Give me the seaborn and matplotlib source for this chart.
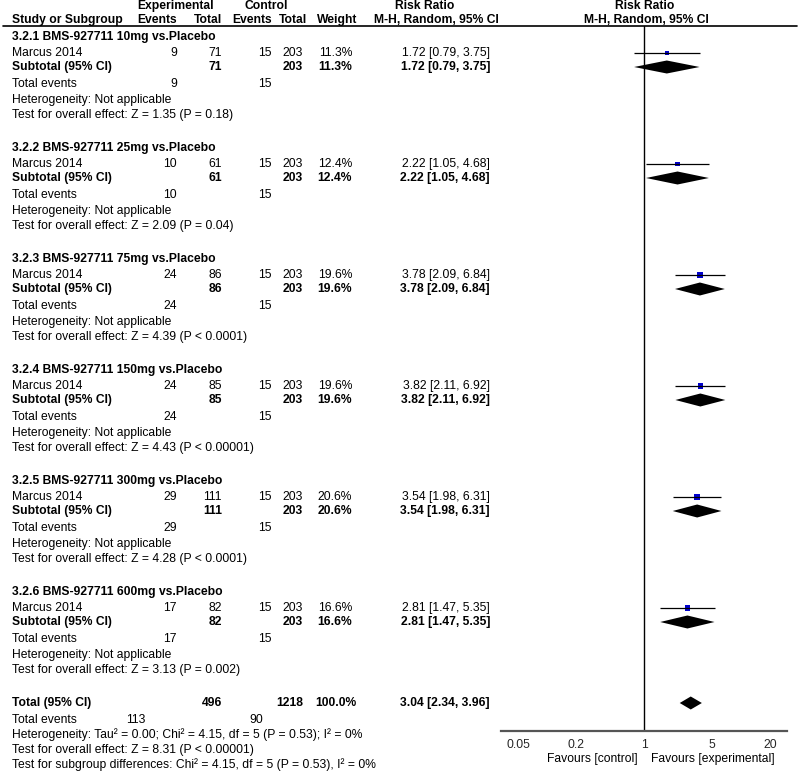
import numpy as np
import matplotlib
matplotlib.use("Agg")
import matplotlib.pyplot as plt
import seaborn as sns

# -------------------------------
# data
# -------------------------------
groups = ["3.2.1 BMS-927711 10mg vs.Placebo", "3.2.2 BMS-927711 25mg vs.Placebo",
          "3.2.3 BMS-927711 75mg vs.Placebo", "3.2.4 BMS-927711 150mg vs.Placebo",
          "3.2.5 BMS-927711 300mg vs.Placebo", "3.2.6 BMS-927711 600mg vs.Placebo"]
study = "Marcus 2014"
exp_events = [9, 10, 24, 24, 29, 17]
exp_total = [71, 61, 86, 85, 111, 82]
ctrl_events = [15, 15, 15, 15, 15, 15]
ctrl_total = [203, 203, 203, 203, 203, 203]
weights = [11.3, 12.4, 19.6, 19.6, 20.6, 16.6]
rr = [1.72, 2.22, 3.78, 3.82, 3.54, 2.81]
ci_lo = [0.79, 1.05, 2.09, 2.11, 1.98, 1.47]
ci_hi = [3.75, 4.68, 6.84, 6.92, 6.31, 5.35]
z_tests = ["Z = 1.35 (P = 0.18)", "Z = 2.09 (P = 0.04)", "Z = 4.39 (P < 0.0001)",
           "Z = 4.43 (P < 0.00001)", "Z = 4.28 (P < 0.0001)", "Z = 3.13 (P = 0.002)"]

tot_exp, tot_ctrl = 496, 1218
tot_exp_ev, tot_ctrl_ev = 113, 90
tot_rr, tot_lo, tot_hi = 3.04, 2.34, 3.96
tot_lines = ["Heterogeneity: Tau² = 0.00; Chi² = 4.15, df = 5 (P = 0.53); I² = 0%",
             "Test for overall effect: Z = 8.31 (P < 0.00001)",
             "Test for subgroup differences: Chi² = 4.15, df = 5 (P = 0.53), I² = 0%"]

ticks = [0.05, 0.2, 1, 5, 20]
tick_labels = ["0.05", "0.2", "1", "5", "20"]

# -------------------------------
# layout (pixel rows / columns)
# -------------------------------
sns.set_style("white")
plt.rcParams['font.family'] = ['Liberation Sans', 'DejaVu Sans']
FS = 8.7

W, H = 800, 773
group_y = [37 + 111 * k for k in range(6)]
total_y = 37 + 111 * 6
axis_y = 731
top_y = 26

fig = plt.figure(figsize=(8, 7.73), dpi=100)
ax_t = fig.add_axes([0, 0, 1, 1])
ax_t.set_xlim(0, W)
ax_t.set_ylim(H, 0)
ax_t.axis("off")


def txt(x, y, s, ha="left", bold=False):
    ax_t.text(x, y, s, ha=ha, va="center", fontsize=FS,
              fontweight="bold" if bold else "normal", color="black")


# header
txt(176, 6, "Experimental", "center", True)
txt(266, 6, "Control", "center", True)
txt(425, 6, "Risk Ratio", "center", True)
txt(645, 6, "Risk Ratio", "center", True)
txt(12, 20, "Study or Subgroup", bold=True)
txt(177, 20, "Events", "right", True)
txt(222, 20, "Total", "right", True)
txt(272, 20, "Events", "right", True)
txt(307, 20, "Total", "right", True)
txt(357, 20, "Weight", "right", True)
txt(436, 20, "M-H, Random, 95% CI", "center", True)
txt(646, 20, "M-H, Random, 95% CI", "center", True)
ax_t.plot([3, 797], [top_y, top_y], color="black", lw=1.2)

study_y, sub_y = [], []
for i, g in enumerate(groups):
    y0 = group_y[i]
    ys, yb = y0 + 16, y0 + 30
    study_y.append(ys)
    sub_y.append(yb)
    ci_txt = f"{rr[i]:.2f} [{ci_lo[i]:.2f}, {ci_hi[i]:.2f}]"
    txt(12, y0, g, bold=True)
    txt(12, ys, study)
    txt(177, ys, str(exp_events[i]), "right")
    txt(222, ys, str(exp_total[i]), "right")
    txt(272, ys, str(ctrl_events[i]), "right")
    txt(303, ys, str(ctrl_total[i]), "right")
    txt(352, ys, f"{weights[i]:.1f}%", "right")
    txt(490, ys, ci_txt, "right")
    txt(12, yb, "Subtotal (95% CI)", bold=True)
    txt(222, yb, str(exp_total[i]), "right", True)
    txt(303, yb, str(ctrl_total[i]), "right", True)
    txt(352, yb, f"{weights[i]:.1f}%", "right", True)
    txt(490, yb, ci_txt, "right", True)
    txt(12, y0 + 47, "Total events")
    txt(177, y0 + 47, str(exp_events[i]), "right")
    txt(272, y0 + 47, str(ctrl_events[i]), "right")
    txt(12, y0 + 63, "Heterogeneity: Not applicable")
    txt(12, y0 + 78, "Test for overall effect: " + z_tests[i])

# overall total
txt(12, total_y, "Total (95% CI)", bold=True)
txt(222, total_y, str(tot_exp), "right", True)
txt(303, total_y, str(tot_ctrl), "right", True)
txt(357, total_y, "100.0%", "right", True)
txt(490, total_y, f"{tot_rr:.2f} [{tot_lo:.2f}, {tot_hi:.2f}]", "right", True)
txt(12, total_y + 17, "Total events")
txt(145, total_y + 17, str(tot_exp_ev), "right")
txt(263, total_y + 17, str(tot_ctrl_ev), "right")
for k, line in enumerate(tot_lines):
    txt(12, total_y + 32 + 15 * k, line)

# -------------------------------
# forest panel
# -------------------------------
x0, x1 = 501, 787
ax_f = fig.add_axes([x0 / W, (H - axis_y) / H, (x1 - x0) / W, (axis_y - top_y) / H])
ax_f.patch.set_alpha(0)
ax_f.set_xscale("log")
ax_f.set_xlim(1 / 30, 30)
ax_f.set_ylim(axis_y, top_y)
for s in ["top", "left", "right"]:
    ax_f.spines[s].set_visible(False)
ax_f.spines["bottom"].set_color("#555555")
ax_f.spines["bottom"].set_linewidth(1.6)
ax_f.set_yticks([])
ax_f.set_xticks(ticks)
ax_f.set_xticklabels(tick_labels)
ax_f.xaxis.set_minor_locator(matplotlib.ticker.NullLocator())
ax_f.tick_params(axis="x", direction="inout", length=6, width=1.3, color="#555555",
                 labelsize=FS, pad=3)
ax_f.axvline(1, color="black", lw=1)

# study CIs and squares
ax_f.hlines(study_y, ci_lo, ci_hi, color="black", lw=0.9)
sns.scatterplot(x=rr, y=study_y, size=weights, sizes=(9, 16), marker="s",
                color="#0000cc", linewidth=0, legend=False, ax=ax_f)

# diamonds
def diamond(est, lo, hi, y, h=6.5):
    ax_f.fill([lo, est, hi, est], [y, y - h, y, y + h], color="black", lw=0)


for i in range(len(groups)):
    diamond(rr[i], ci_lo[i], ci_hi[i], sub_y[i])
diamond(tot_rr, tot_lo, tot_hi, total_y)
ax_f.set_xlabel("")
ax_f.set_ylabel("")

txt(638, 759, "Favours [control]", "right")
txt(651, 759, "Favours [experimental]", "left")

fig.savefig("out.png", dpi=100)
